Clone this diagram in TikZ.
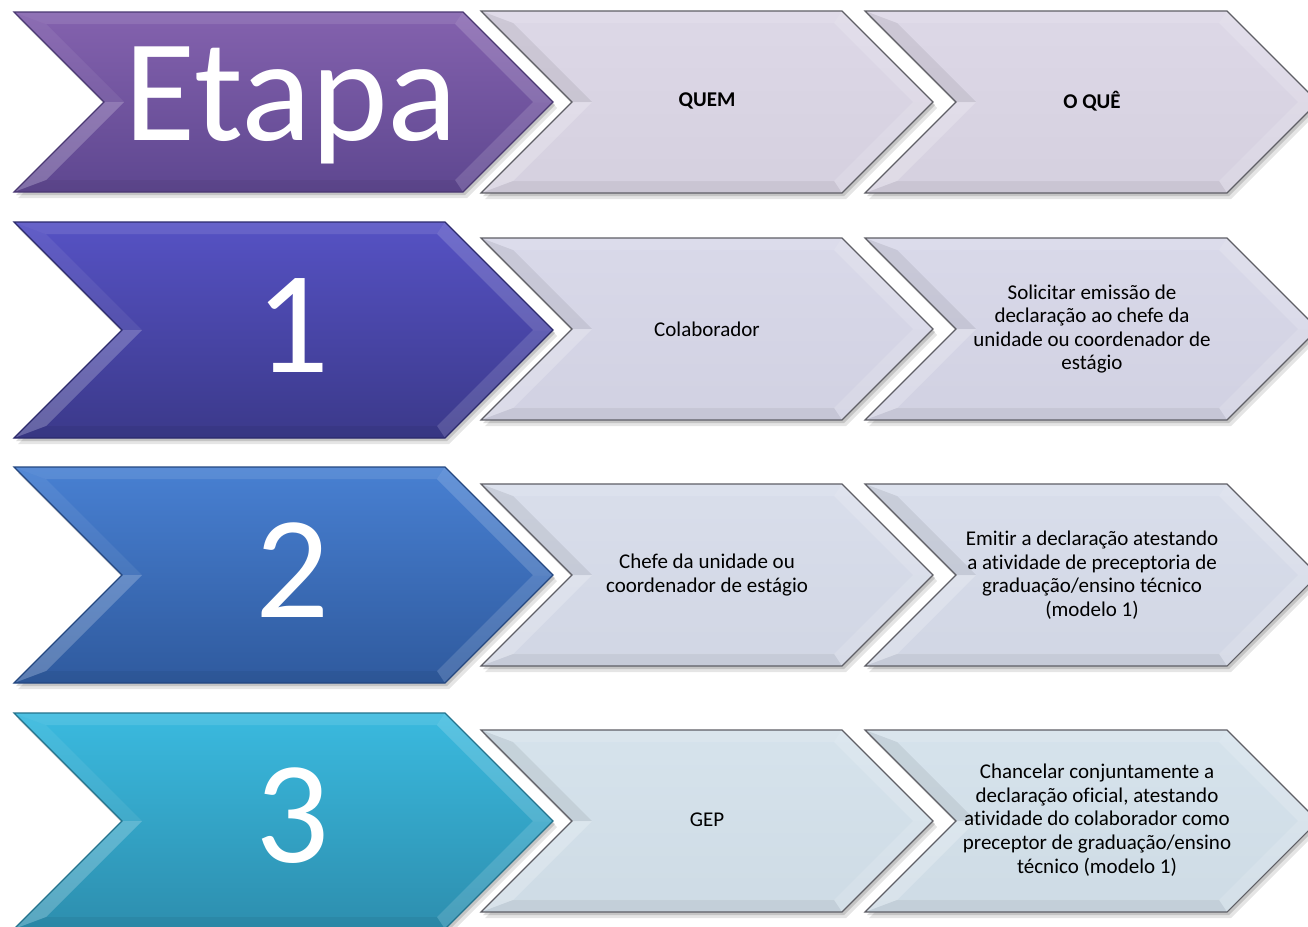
\documentclass[tikz,border=0pt]{standalone}
\usepackage{fontspec}
\setmainfont{Carlito}[Ligatures=NoCommon]
\definecolor{pA}{HTML}{8462AE}\definecolor{pB}{HTML}{5E4790}\definecolor{pO}{HTML}{4A3872}
\definecolor{bA}{HTML}{5652C4}\definecolor{bB}{HTML}{3B398A}\definecolor{bO}{HTML}{2C2A6C}
\definecolor{mA}{HTML}{4880D2}\definecolor{mB}{HTML}{2F5A9E}\definecolor{mO}{HTML}{244780}
\definecolor{cA}{HTML}{3ABADF}\definecolor{cB}{HTML}{2D8EAE}\definecolor{cO}{HTML}{23738D}
\definecolor{l0A}{HTML}{DDD8E7}\definecolor{l0B}{HTML}{D5D0DF}
\definecolor{l1A}{HTML}{D9D9E9}\definecolor{l1B}{HTML}{D1D1E2}
\definecolor{l2A}{HTML}{D9DEEB}\definecolor{l2B}{HTML}{D1D6E4}
\definecolor{l3A}{HTML}{D6E3EC}\definecolor{l3B}{HTML}{CEDBE5}
\definecolor{lO}{HTML}{5F5F66}
% #1 L, #2 R (top-right x), #3 top y, #4 half height, #5 top colour, #6 bottom colour, #7 outline, #8 left-top bevel fill
\newcommand\chev[8]{%
 \pgfmathsetmacro\xL{#1}\pgfmathsetmacro\xR{#2}\pgfmathsetmacro\yT{#3}%
 \pgfmathsetmacro\yC{#3+#4}\pgfmathsetmacro\yB{#3+2*#4}%
 \pgfmathsetmacro\xN{#1+#4}\pgfmathsetmacro\xP{#2+#4}%
 \pgfmathsetmacro\iTL{#1+32}\pgfmathsetmacro\iTR{#2-8}%
 \pgfmathsetmacro\iN{#1+#4+20}\pgfmathsetmacro\iP{#2+#4-20}%
 \pgfmathsetmacro\iT{#3+12}\pgfmathsetmacro\iB{#3+2*#4-12}%
 \coordinate (o1) at (\xL,\yT); \coordinate (o2) at (\xR,\yT); \coordinate (o3) at (\xP,\yC);
 \coordinate (o4) at (\xR,\yB); \coordinate (o5) at (\xL,\yB); \coordinate (o6) at (\xN,\yC);
 \coordinate (i1) at (\iTL,\iT); \coordinate (i2) at (\iTR,\iT); \coordinate (i3) at (\iP,\yC);
 \coordinate (i4) at (\iTR,\iB); \coordinate (i5) at (\iTL,\iB); \coordinate (i6) at (\iN,\yC);
 \fill[black,opacity=0.10] ([shift={(4,6)}]o1)--([shift={(4,6)}]o2)--([shift={(4,6)}]o3)--([shift={(4,6)}]o4)--([shift={(4,6)}]o5)--([shift={(4,6)}]o6)--cycle;
 \fill[black,opacity=0.14] ([shift={(2,3)}]o1)--([shift={(2,3)}]o2)--([shift={(2,3)}]o3)--([shift={(2,3)}]o4)--([shift={(2,3)}]o5)--([shift={(2,3)}]o6)--cycle;
 \shade[top color=#5,bottom color=#6] (o1)--(o2)--(o3)--(o4)--(o5)--(o6)--cycle;
 \fill[white,opacity=.10] (o1)--(o2)--(i2)--(i1)--cycle;
 \fill[#8] (o1)--(i1)--(i6)--(o6)--cycle;
 \fill[white,opacity=.22] (o6)--(i6)--(i5)--(o5)--cycle;
 \fill[white,opacity=.16] (o2)--(o3)--(i3)--(i2)--cycle;
 \fill[white,opacity=.14] (o3)--(o4)--(i4)--(i3)--cycle;
 \fill[black,opacity=.05] (o5)--(o4)--(i4)--(i5)--cycle;
 \draw[#7,line width=1.1pt,line join=miter] (o1)--(o2)--(o3)--(o4)--(o5)--(o6)--cycle;
}
\tikzset{
 bigtxt/.style={text=white,inner sep=0pt,anchor=base,font=\fontsize{146}{146}\selectfont},
 smtxt/.style={text=black,inner sep=0pt,align=center,font=\fontsize{21}{23.6}\selectfont},
}
\begin{document}
\begin{tikzpicture}[x=1pt,y=-1pt]
\useasboundingbox (0,0) rectangle (1308,926);
\fill[white] (0,0) rectangle (1308,926);
\clip (0,0) rectangle (1308,926);
% row 0
\chev{14}{463}{12}{90}{pA}{pB}{pO}{white,opacity=.07}
\chev{481}{842}{11}{91}{l0A}{l0B}{lO}{black,opacity=.07}
\chev{865}{1227}{11}{91}{l0A}{l0B}{lO}{black,opacity=.07}
% row 1
\chev{14}{445}{222}{108}{bA}{bB}{bO}{white,opacity=.07}
\chev{481}{842}{238}{91}{l1A}{l1B}{lO}{black,opacity=.07}
\chev{865}{1227}{238}{91}{l1A}{l1B}{lO}{black,opacity=.07}
% row 2
\chev{14}{445}{467}{108}{mA}{mB}{mO}{white,opacity=.07}
\chev{481}{842}{484}{91}{l2A}{l2B}{lO}{black,opacity=.07}
\chev{865}{1227}{484}{91}{l2A}{l2B}{lO}{black,opacity=.07}
% row 3
\chev{14}{445}{713}{108}{cA}{cB}{cO}{white,opacity=.07}
\chev{481}{842}{730}{91}{l3A}{l3B}{lO}{black,opacity=.07}
\chev{865}{1227}{730}{91}{l3A}{l3B}{lO}{black,opacity=.07}
% texts
\node[bigtxt] (e0) at (291,140) {Etapa};
\node[bigtxt] (e1) at (292,372) {1};
\node[bigtxt] (e2) at (292,617) {2};
\node[bigtxt] (e3) at (292,862) {3};
\node[smtxt,font=\fontsize{21}{23.6}\selectfont\bfseries] (q0) at (707,101) {QUEM};
\node[smtxt,font=\fontsize{21}{23.6}\selectfont\bfseries] (w0) at (1092,101) {O QUÊ};
\node[smtxt] (q1) at (707,329) {Colaborador};
\node[smtxt] (w1) at (1092,329) {Solicitar emissão de\\declaração ao chefe da\\unidade ou coordenador de\\estágio};
\node[smtxt] (q2) at (707,575) {Chefe da unidade ou\\coordenador de estágio};
\node[smtxt] (w2) at (1092,575) {Emitir a declaração atestando\\a atividade de preceptoria de\\graduação/ensino técnico\\(modelo 1)};
\node[smtxt] (q3) at (707,820) {GEP};
\node[smtxt] (w3) at (1097,820) {Chancelar conjuntamente a\\declaração oficial, atestando\\atividade do colaborador como\\preceptor de graduação/ensino\\técnico (modelo 1)};
\end{tikzpicture}
\end{document}
